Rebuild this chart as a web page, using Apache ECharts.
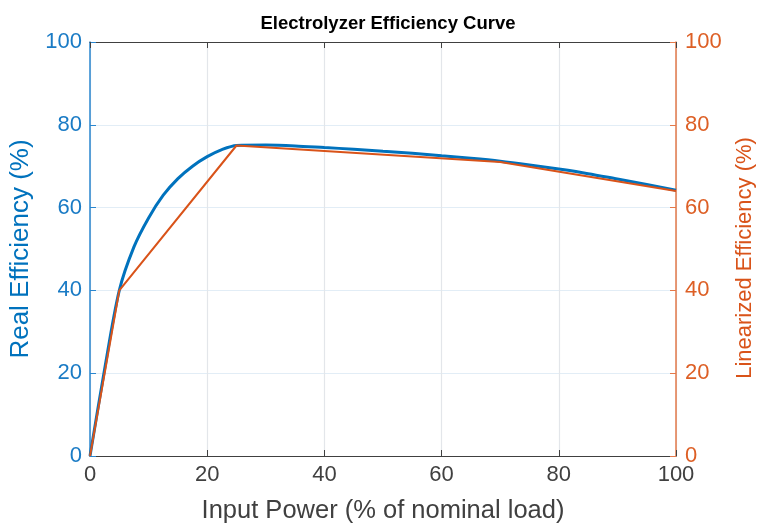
<!DOCTYPE html>
<html><head><meta charset="utf-8">
<script src="https://cdn.jsdelivr.net/npm/echarts@6/dist/echarts.min.js"></script>
<style>html,body{margin:0;padding:0;background:#fff}#c{width:757px;height:525px}</style>
</head><body><div id="c"></div>
<script>
const realX = [0,2.5,5,7.5,10,12.5,15,17.5,20,22.5,25,30,35,40,45,50,55,60,65,70,75,80,85,90,95,100];
const realY = [0,21,40,50.5,57.5,63,67,70,72.3,74,75,75.1,74.9,74.5,74.1,73.6,73.1,72.5,71.9,71.2,70.3,69.3,68.2,66.9,65.6,64.2];
const linX = [0,5,25,70,100];
const linY = [0,40,75,71,64];
const xTicks = [0,20,40,60,80,100];
const yTicks = [0,20,40,60,80,100];

const blue = '#0072BD', orange = '#D95319';
const font = 'Liberation Sans, Arial, sans-serif';
const chart = echarts.init(document.getElementById('c'), null, {renderer:'canvas'});
chart.setOption({
  animation:false,
  title:{text:'Electrolyzer Efficiency Curve', left:383, top:9, textAlign:'center',
    textStyle:{fontFamily:font, fontSize:18.5, fontWeight:'bold', color:'#000'}},
  grid:{left:90, right:81, top:42, bottom:69, containLabel:false, outerBoundsMode:'none'},
  xAxis:[{type:'value', min:0, max:100, interval:20, position:'bottom',
    name:'Input Power (% of nominal load)', nameLocation:'middle', nameGap:42,
    nameTextStyle:{fontFamily:font, fontSize:25.5, color:'#404040'},
    axisLine:{onZero:false, lineStyle:{color:'#404040', width:1.2}},
    axisTick:{inside:true, length:6, lineStyle:{color:'#404040'}},
    axisLabel:{fontFamily:font, fontSize:22, color:'#404040', margin:8},
    splitLine:{show:true, lineStyle:{color:'#e3e6ea', width:1.2}}},
   {type:'value', min:0, max:100, interval:20, position:'top',
    axisLine:{onZero:false, lineStyle:{color:'#404040', width:1.2}},
    axisTick:{inside:true, length:6, lineStyle:{color:'#404040'}},
    axisLabel:{show:false}, splitLine:{show:false}}],
  yAxis:[{type:'value', min:0, max:100, interval:20, position:'left',
    name:'Real Efficiency (%)', nameLocation:'middle', nameGap:56,
    nameTextStyle:{fontFamily:font, fontSize:26, color:blue},
    axisLine:{show:true, onZero:false, lineStyle:{color:'#2a86cf', width:1.5}},
    axisTick:{show:true, inside:true, length:6, lineStyle:{color:'#2a86cf'}},
    axisLabel:{fontFamily:font, fontSize:22, color:'#1a7bc5', margin:8},
    splitLine:{show:true, lineStyle:{color:'#e2edf6', width:1.2}}},
   {type:'value', min:0, max:100, interval:20, position:'right',
    name:'Linearized Efficiency (%)', nameLocation:'middle', nameGap:58, nameRotate:90,
    nameTextStyle:{fontFamily:font, fontSize:22, color:orange, padding:[0,18,0,0]},
    axisLine:{show:true, onZero:false, lineStyle:{color:'#e3794a', width:1.5}},
    axisTick:{show:true, inside:true, length:6, lineStyle:{color:'#e3794a'}},
    axisLabel:{fontFamily:font, fontSize:22, color:'#dd5f25', margin:9},
    splitLine:{show:false}}],
  series:[
    {type:'line', xAxisIndex:0, yAxisIndex:0, data:realX.map((x,i)=>[x,realY[i]]),
      smooth:0.3, showSymbol:false, lineStyle:{color:blue, width:3}, z:2},
    {type:'line', xAxisIndex:0, yAxisIndex:1, data:linX.map((x,i)=>[x,linY[i]]),
      showSymbol:false, lineStyle:{color:orange, width:2}, z:3}
  ]
});
</script></body></html>
